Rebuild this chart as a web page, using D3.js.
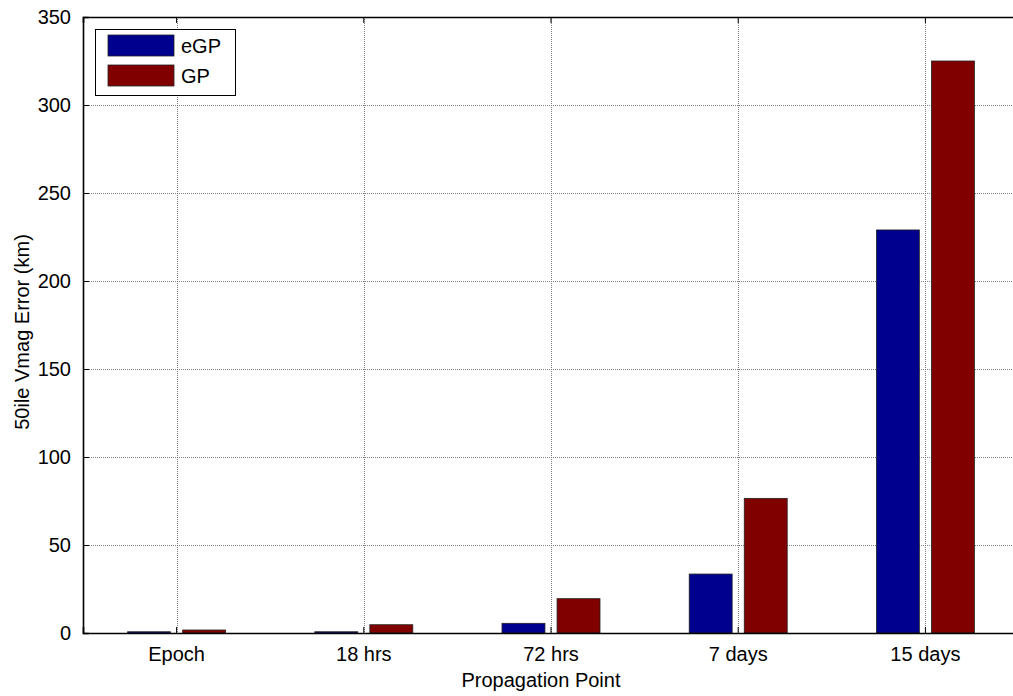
<!DOCTYPE html>
<html>
<head>
<meta charset="utf-8">
<script src="https://cdn.jsdelivr.net/npm/d3@7"></script>
<style>
  html, body { margin: 0; padding: 0; background: #fff; }
  svg { display: block; font-family: "Liberation Sans", Arial, sans-serif; }
</style>
</head>
<body>
<svg id="chart" width="1013" height="696"></svg>
<script>
// Propagation points and the 50th-percentile Vmag error for each model
const categories = ["Epoch", "18 hrs", "72 hrs", "7 days", "15 days"];
const seriesNames = ["eGP", "GP"];
const eGP = [0.7, 0.7, 5.5, 33.5, 229];
const GP = [1.7, 4.7, 19.5, 76.5, 325];
const yTicks = [0, 50, 100, 150, 200, 250, 300, 350];
const colors = ["#00008F", "#800000"];

const svg = d3.select("#chart");
const plotLeft = 83, plotTop = 17, plotBottom = 633, plotRight = 1019;

const x = d3.scaleBand().domain(categories).range([plotLeft, plotRight]).padding(0);
const xInner = d3.scaleBand().domain(seriesNames).range([-49, 49]).paddingInner(0.22);
const y = d3.scaleLinear().domain([0, 350]).range([plotBottom, plotTop]);

const rows = categories.map((c, i) => ({ cat: c, values: [eGP[i], GP[i]] }));

// grid lines
const grid = svg.append("g").attr("stroke", "#808080").attr("stroke-width", 1)
  .attr("stroke-dasharray", "1,1").attr("shape-rendering", "crispEdges");
grid.selectAll("line.h").data(yTicks.slice(1, -1)).join("line").attr("class", "h")
  .attr("x1", plotLeft).attr("x2", plotRight)
  .attr("y1", d => Math.round(y(d)) + 0.5).attr("y2", d => Math.round(y(d)) + 0.5);
grid.selectAll("line.v").data(categories).join("line").attr("class", "v")
  .attr("y1", plotTop).attr("y2", plotBottom)
  .attr("x1", d => Math.round(x(d) + x.bandwidth() / 2) + 0.5)
  .attr("x2", d => Math.round(x(d) + x.bandwidth() / 2) + 0.5);

// bars
const groups = svg.append("g").selectAll("g").data(rows).join("g")
  .attr("transform", d => `translate(${x(d.cat) + x.bandwidth() / 2},0)`);
groups.selectAll("rect").data(d => d.values.map((v, j) => ({ name: seriesNames[j], v, j })))
  .join("rect")
  .attr("x", d => xInner(d.name))
  .attr("width", xInner.bandwidth())
  .attr("y", d => y(d.v))
  .attr("height", d => plotBottom - y(d.v))
  .attr("fill", d => colors[d.j])
  .attr("stroke", "#222").attr("stroke-width", 0.8);

// axes with inward ticks, box style
const fontSize = "20px";
const yAxis = d3.axisLeft(y).tickValues(yTicks).tickSize(-6).tickPadding(12);
const gy = svg.append("g").attr("transform", `translate(${plotLeft},0)`).call(yAxis);
const xAxis = d3.axisBottom(x).tickSize(-6).tickPadding(14);
const gx = svg.append("g").attr("transform", `translate(0,${plotBottom})`).call(xAxis);
const gxTop = svg.append("g").attr("transform", `translate(0,${plotTop})`)
  .call(d3.axisTop(x).tickSize(-6).tickFormat(""));
const gyRight = svg.append("g").attr("transform", `translate(${plotRight},0)`)
  .call(d3.axisRight(y).tickValues(yTicks).tickSize(-6).tickFormat(""));

[gx, gy, gxTop, gyRight].forEach(g => {
  g.selectAll(".domain").attr("stroke", "#000").attr("stroke-width", 1.2);
  g.selectAll(".tick line").attr("stroke", "#000").attr("stroke-width", 1);
  g.selectAll("text").attr("font-size", fontSize)
    .attr("font-family", "'Liberation Sans', Arial, sans-serif").attr("fill", "#000");
});
gx.select(".domain").attr("stroke-width", 1.6);
gy.select(".domain").attr("stroke-width", 1.6);
gxTop.select(".domain").attr("stroke-width", 1.6);

// axis titles
svg.append("text").attr("x", 541).attr("y", 687).attr("text-anchor", "middle")
  .attr("font-size", fontSize).text("Propagation Point");
svg.append("text").attr("transform", "translate(29,332) rotate(-90)")
  .attr("text-anchor", "middle").attr("font-size", fontSize).text("50ile Vmag Error (km)");

// legend
const lg = svg.append("g");
lg.append("rect").attr("x", 95.5).attr("y", 29.5).attr("width", 140).attr("height", 66)
  .attr("fill", "#fff").attr("stroke", "#000").attr("stroke-width", 1);
seriesNames.forEach((s, i) => {
  lg.append("rect").attr("x", 108).attr("y", 35 + i * 30).attr("width", 66).attr("height", 21)
    .attr("fill", colors[i]).attr("stroke", "#222").attr("stroke-width", 0.8);
  lg.append("text").attr("x", 181).attr("y", 53 + i * 30).attr("font-size", fontSize).text(s);
});
</script>
</body>
</html>
